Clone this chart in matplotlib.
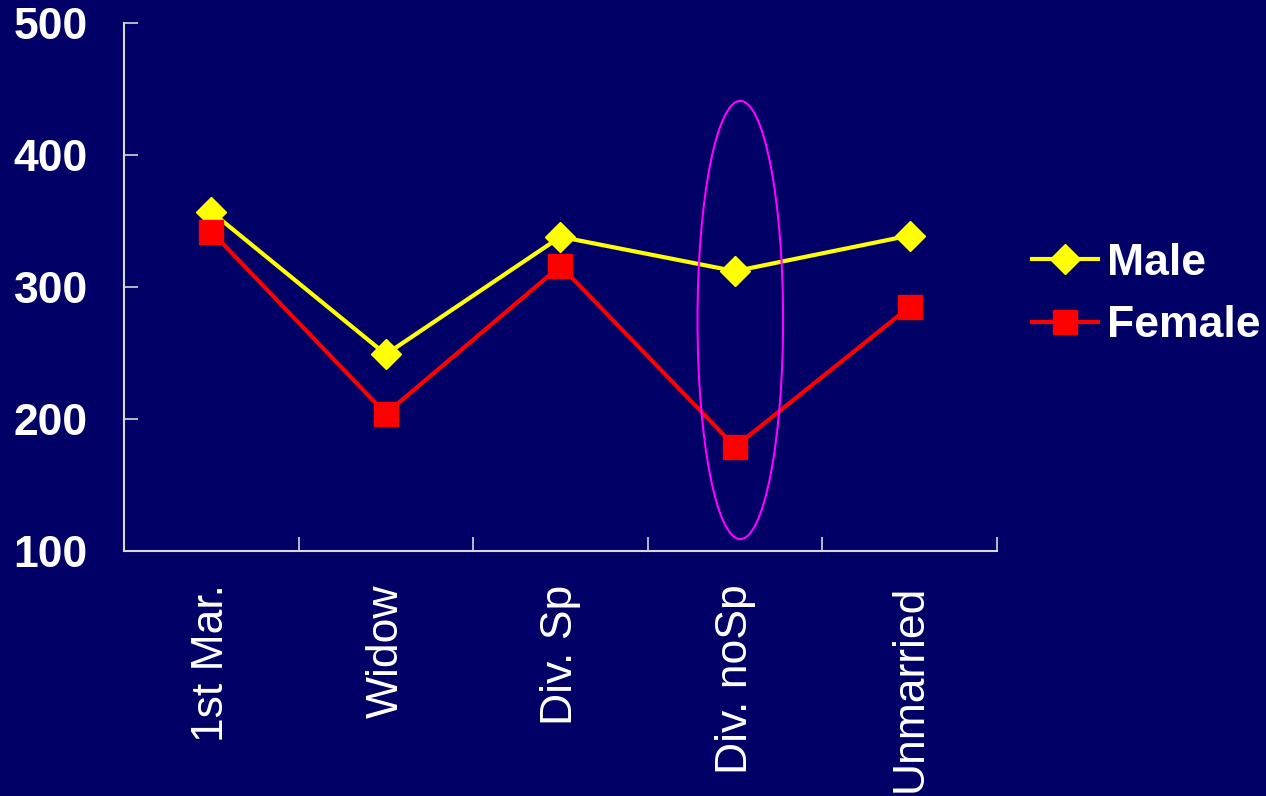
import numpy as np
import matplotlib.pyplot as plt
from matplotlib.patches import Ellipse

# Datos: categorías de estado civil y valores por sexo
categorias = ['1st Mar.', 'Widow', 'Div. Sp', 'Div. noSp', 'Unmarried']
male = [357, 249, 338, 312, 339]
female = [342, 204, 316, 179, 285]
y_ticks = [100, 200, 300, 400, 500]

fondo = '#000066'
plt.rcParams['font.family'] = ['Liberation Sans', 'DejaVu Sans']

fig = plt.figure(figsize=[12.66, 7.96], dpi=100)
fig.patch.set_facecolor(fondo)
ax = fig.add_axes([0.0979, 0.3078, 0.6896, 0.6633])
ax.set_facecolor(fondo)

x = np.arange(len(categorias))
ax.plot(x, male, '-', color='#ffff00', linewidth=3, marker='D', markersize=15,
        markerfacecolor='#ffff00', markeredgecolor='#ffff00', label='Male')
ax.plot(x, female, '-', color='#ff0000', linewidth=3, marker='s', markersize=17,
        markerfacecolor='#ff0000', markeredgecolor='#ff0000', label='Female')

# Elipse que marca la categoría Div. noSp
elipse = Ellipse((3.03, 275), width=0.49, height=332, fill=False,
                 edgecolor='#ff00ff', linewidth=1.5, zorder=5)
ax.add_patch(elipse)

ax.set_xlim(-0.5, len(categorias) - 0.5)
ax.set_ylim(100, 500)

# Ticks en los límites de cada categoría y etiquetas en el centro
ax.set_xticks(np.arange(-0.5, len(categorias), 1.0))
ax.set_xticklabels([])
ax.set_xticks(x, minor=True)
ax.set_xticklabels(categorias, minor=True, rotation=90, fontsize=32, color='white',
                   va='top')
ax.tick_params(axis='x', which='minor', length=0, pad=24)
ax.tick_params(axis='x', which='major', direction='in', length=10, width=1.2,
               color='#d8d8d8')

ax.set_yticks(y_ticks)
ax.set_yticklabels([str(v) for v in y_ticks], fontsize=32, fontweight='bold',
                   color='white')
ax.tick_params(axis='y', direction='in', length=10, width=1.2, color='#d8d8d8',
               pad=26)

for lado in ['top', 'right']:
    ax.spines[lado].set_visible(False)
for lado in ['left', 'bottom']:
    ax.spines[lado].set_color('#d8d8d8')
    ax.spines[lado].set_linewidth(1.5)

leg = ax.legend(loc='center left', bbox_to_anchor=(0.994, 0.486), frameon=False,
                handlelength=1.5, handletextpad=0.2, labelspacing=0.48,
                prop={'size': 32, 'weight': 'bold'})
for t in leg.get_texts():
    t.set_color('white')

fig.savefig('out.png', dpi=100, facecolor=fondo)
